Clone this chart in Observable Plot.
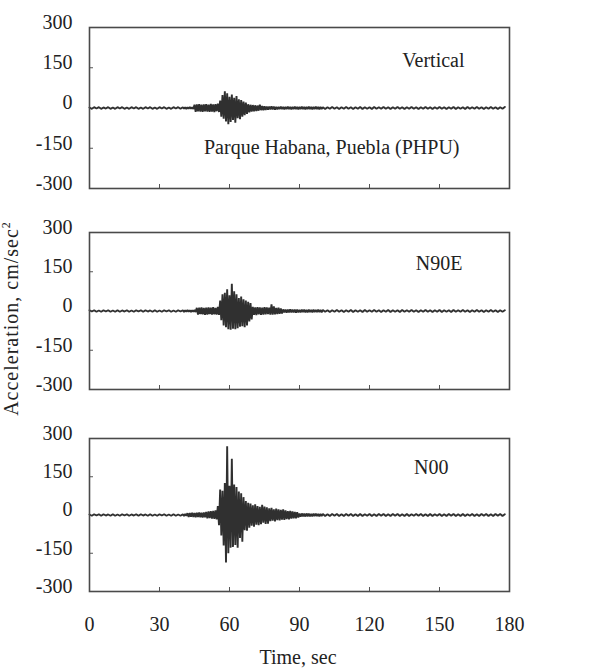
<!DOCTYPE html>
<html><head><meta charset="utf-8">
<script src="https://cdn.jsdelivr.net/npm/d3@7"></script>
<script src="https://cdn.jsdelivr.net/npm/@observablehq/plot@0.6"></script>
<style>
body{margin:0;background:#fff;}
#wrap{position:relative;width:604px;height:671px;font-family:"Liberation Serif","Times New Roman",serif;color:#222;overflow:hidden;}
.panel{position:absolute;left:0;}
#ytitle{position:absolute;left:11px;top:319px;transform:translate(-50%,-50%) rotate(-90deg);font-size:20px;letter-spacing:1px;white-space:nowrap;}
#ytitle sup{font-size:12px;letter-spacing:0;}
#xtitle{position:absolute;left:298px;top:657px;transform:translate(-50%,-50%);font-size:20px;white-space:nowrap;}
</style></head><body>
<div id="wrap">
  <div id="ytitle">Acceleration, cm/sec<sup>2</sup></div>
  <div id="xtitle">Time, sec</div>
</div>
<script>
// ---- data ----
const componentNames = ["Vertical", "N90E", "N00"];
const stationName = "Parque Habana, Puebla (PHPU)";
const xTicks = [0, 30, 60, 90, 120, 150, 180];
const xInnerTicks = [30, 60, 90, 120, 150];
const yTicks = [-300, -150, 0, 150, 300];
const yInnerTicks = [-150, 150];

// sampling of the traces (seconds)
const preStart = 0, preStep = 1;     // 0 .. 39 s
const mainStart = 40, mainStep = 0.5; // 40 .. 99.5 s
const postStart = 100, postStep = 1;  // 100 .. 178 s

// Vertical component (cm/s^2)
const vertPre = [2,-3,3,-2,3,-3,2,-2,3,-3, 2,-3,3,-2,3,-3,2,-3,3,-2, 3,-3,2,-3,3,-2,3,-3,2,-3, 3,-2,3,-3,2,-3,3,-2,3,-3];
const vertMain = [
  3,-3,3,-4,3,-3,4,-3,3,-4,
  12,-14,13,-12,14,-13,12,-14,13,-12,
  14,-13,12,-14,15,-13,13,-15,14,-12,16,-15,
  28,-32,48,-40,62,-50,55,-60,
  42,-52,50,-45,38,-55,45,-38,
  32,-42,30,-32,24,-27,20,-22,
  14,-16,12,-13,11,-12,10,-11,
  9,-10,12,-8,7,-8,6,-7,
  5,-6,5,-5,6,-5,5,-6,
  4,-5,4,-4,5,-4,4,-5,4,-4, 5,-4,4,-5,4,-4,5,-4,4,-5,
  4,-4,5,-4,4,-5,4,-4,5,-4, 4,-5,4,-4,5,-4,4,-5,4,-4
];
const vertPost = [
  3,-4,3,-3,4,-3,3,-4,3,-3, 4,-3,3,-4,3,-3,4,-4,3,-3,
  3,-4,4,-3,3,-3,4,-3,3,-4, 3,-3,4,-3,3,-4,3,-3,4,-3,
  3,-4,3,-3,4,-3,3,-4,3,-3, 4,-3,3,-4,3,-3,4,-4,3,-3,
  3,-4,4,-3,3,-3,4,-3,3,-4, 3,-3,4,-3,3,-4,3,-3,4
];

// N90E component (cm/s^2)
const ewPre = [3,-2,3,-3,2,-3,3,-2,3,-3, 2,-3,3,-3,2,-2,3,-3,2,-3, 3,-2,3,-3,3,-2,2,-3,3,-3, 2,-3,3,-2,3,-3,2,-3,3,-2];
const ewMain = [
  3,-4,3,-3,4,-3,3,-4,3,-3,4,-4,
  12,-14,13,-12,14,-13,12,-15,13,-14, 14,-12,13,-14,15,-13,12,-14,16,-15,
  40,-35,64,-55,70,-62,83,-70,
  60,-72,104,-68,75,-70,64,-66,
  50,-60,55,-58,45,-62,40,-55,
  35,-40,30,-32,
  16,-15,14,-16,15,-13,14,-15,13,-14,15,-13,14,-12,13,-14,
  25,-14,18,-13,12,-12,13,-11,10,-10,
  6,-5,5,-6,5,-5,6,-5,5,-5, 5,-6,5,-5,4,-5,5,-4,5,-5,
  4,-5,5,-4,4,-5,5,-4,4,-4, 5,-4,4,-5
];
const ewPost = [
  4,-3,3,-4,3,-3,4,-3,3,-4, 3,-3,4,-4,3,-3,3,-4,4,-3,
  3,-3,4,-3,3,-4,3,-3,4,-4, 3,-3,3,-4,4,-3,3,-3,4,-3,
  3,-4,3,-3,4,-3,3,-4,3,-3, 4,-4,3,-3,3,-4,4,-3,3,-3,
  4,-3,3,-4,3,-3,4,-3,3,-4, 3,-3,4,-3,3,-4,3,-3,3
];

// N00 component (cm/s^2)
const nsPre = [2,-3,3,-2,3,-3,3,-2,2,-3, 3,-3,2,-3,3,-2,3,-3,2,-2, 3,-3,3,-2,2,-3,3,-3,2,-3, 3,-2,3,-3,2,-3,3,-3,2,-3];
const nsMain = [
  3,-4,4,-3,
  7,-8,8,-7,9,-8,8,-9,9,-8,10,-9,9,-10,10,-9,
  12,-13,14,-12,15,-14,16,-15,18,-17,
  35,-40,100,-80,95,-120,125,-186,
  270,-150,115,-128,221,-125,120,-118,
  110,-128,92,-90,85,-105,70,-60,
  55,-62,48,-50,45,-42,38,-46,
  42,-38,35,-40,32,-36,40,-30,33,-35,30,-34,
  26,-24,28,-22,22,-25,25,-20,22,-21,20,-18,22,-19,
  18,-16,15,-17,16,-14,14,-13,12,-13,11,-10,
  6,-7,6,-5,5,-6,6,-5,5,-5, 4,-5,5,-4,5,-4,4,-5,4,-4
];
const nsPost = [
  4,-4,3,-4,4,-3,4,-4,3,-4, 4,-3,4,-4,3,-4,4,-4,3,-3,
  4,-4,3,-4,4,-3,4,-4,3,-4, 4,-3,4,-4,3,-4,4,-4,3,-3,
  4,-3,4,-4,3,-4,4,-4,3,-3, 4,-4,3,-4,4,-3,4,-4,3,-4,
  4,-4,3,-3,4,-4,3,-4,4,-3, 4,-4,3,-4,4,-3,4,-4,3
];

// ---- build tables ----
function trace(pre, main, post) {
  return [
    ...pre.map((a, i) => ({t: preStart + i * preStep, a})),
    ...main.map((a, i) => ({t: mainStart + i * mainStep, a})),
    ...post.map((a, i) => ({t: postStart + i * postStep, a}))
  ];
}
const traces = [
  trace(vertPre, vertMain, vertPost),
  trace(ewPre, ewMain, ewPost),
  trace(nsPre, nsMain, nsPost)
];

// ---- layout ----
const frameTops = [27, 232, 438];
const frameHeights = [161, 157, 153];
const nameOffsets = [{dx: -45, dy: 33}, {dx: -47, dy: 31}, {dx: -61, dy: 29}];
const mt = 24;
const wrap = document.getElementById("wrap");

traces.forEach((data, i) => {
  const last = i === traces.length - 1;
  const mb = last ? 48 : 12;
  const marks = [
    Plot.axisY(yTicks, {tickSize: 0, tickPadding: 17, dy: -5, fontSize: 20, label: null, tickFormat: d => String(d)}),
    Plot.axisY(yInnerTicks, {tickSize: -4, text: null, stroke: "#555", label: null}),
    Plot.axisX(xInnerTicks, {tickSize: -4, text: null, stroke: "#555", label: null}),
    last ? Plot.axisX(xTicks, {tickSize: 0, tickPadding: 25, fontSize: 20, label: null, tickFormat: d => String(d)}) : null,
    Plot.line(data, {x: "t", y: "a", stroke: "#303030", strokeWidth: 1.9, strokeLinejoin: "miter"}),
    Plot.frame({stroke: "#4a4a4a", strokeWidth: 1.6}),
    Plot.text([componentNames[i]], {frameAnchor: "top-right", dx: nameOffsets[i].dx, dy: nameOffsets[i].dy, fontSize: 20, lineAnchor: "middle", textAnchor: "end"}),
    i === 0 ? Plot.text([stationName], {frameAnchor: "bottom-right", dx: -50, dy: -41, fontSize: 20, lineAnchor: "middle", textAnchor: "end"}) : null
  ].filter(Boolean);
  const svg = Plot.plot({
    width: 604,
    height: mt + frameHeights[i] + mb,
    marginLeft: 89, marginRight: 95, marginTop: mt, marginBottom: mb,
    x: {domain: [0, 180], label: null},
    y: {domain: [-300, 300], label: null},
    style: {fontFamily: '"Liberation Serif", "Times New Roman", serif', fontSize: "20px", color: "#222", background: "transparent", overflow: "visible"},
    marks
  });
  svg.classList.add("panel");
  svg.style.top = (frameTops[i] - mt) + "px";
  wrap.appendChild(svg);
});
</script>
</body></html>
